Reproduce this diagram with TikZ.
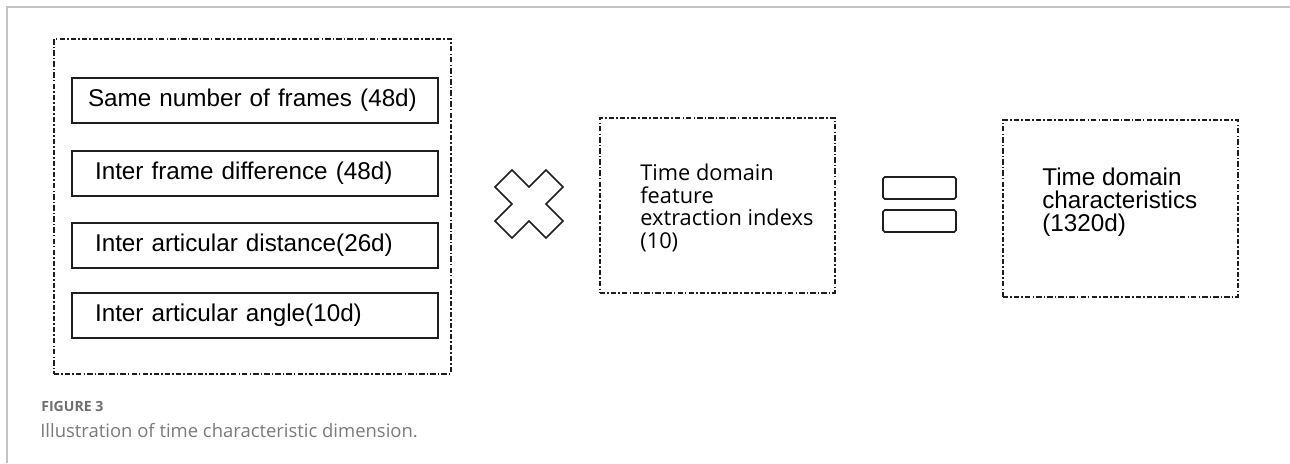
\documentclass[tikz,border=0pt]{standalone}
\usepackage{fontspec}
\setmainfont{Liberation Sans}
\newfontfamily\indexfont{Open Sans}
\newfontfamily\captionfont[Ligatures=NoCommon]{Open Sans}
\usetikzlibrary{positioning}
\definecolor{ink}{HTML}{1E1E1E}
\definecolor{rule}{HTML}{C4C4C4}
\definecolor{capgray}{HTML}{6E6E6E}
\definecolor{textgray}{HTML}{7A7A7A}

\tikzset{
  dotbox/.style={draw=ink,line width=0.8pt,
    dash pattern=on 3pt off 1.2pt on 0.9pt off 1.2pt},
  featbox/.style={draw=ink,line width=1.1pt,minimum width=7.32cm,
    minimum height=0.9cm,text width=6.68cm,inner xsep=0.32cm,align=left,
    font=\fontsize{13.8}{14}\selectfont},
  eqbar/.style={draw=ink,line width=0.9pt,rounded corners=1pt,
    minimum width=1.46cm,minimum height=0.44cm}
}

\begin{document}
\begin{tikzpicture}[x=0.02cm,y=-0.02cm]
  \useasboundingbox (0,0) rectangle (1290,463);
  % page frame
  \draw[rule,line width=1.2pt] (7,463) -- (7,7) -- (1290,7);

  % feature group
  \node[dotbox,minimum width=7.94cm,minimum height=6.7cm] (group) at (252.5,206.5) {};
  \node[featbox] (frames) at (255,100.5) {Same number of frames (48d)};
  \node[featbox] (diff) at (255,173.5) {\hspace*{0.14cm}Inter frame difference (48d)};
  \node[featbox] (dist) at (255,245.5) {\hspace*{0.14cm}Inter articular distance(26d)};
  \node[featbox] (angle) at (255,315.5) {\hspace*{0.14cm}Inter articular angle(10d)};

  % times sign
  \coordinate (times) at (529,204);
  \draw[ink,line width=0.9pt,line join=miter]
    (times) ++(0,-17) -- ++(17,-17) -- ++(17,17) -- ++(-17,17)
    -- ++(17,17) -- ++(-17,17) -- ++(-17,-17) -- ++(-17,17)
    -- ++(-17,-17) -- ++(17,-17) -- ++(-17,-17) -- ++(17,-17) -- cycle;

  % index box
  \node[dotbox,minimum width=4.7cm,minimum height=3.5cm] (index) at (717.5,205.5) {};
  \node[anchor=west,align=left,inner sep=0pt,
    font=\indexfont\fontsize{12.4}{13}\selectfont] (indextext) at (640,208)
    {Time domain\\feature\\extraction indexs\\(10)};

  % equals sign
  \node[eqbar] (eqtop) at (919.5,188) {};
  \node[eqbar] (eqbot) at (919.5,221) {};

  % result box
  \node[dotbox,minimum width=4.7cm,minimum height=3.54cm] (result) at (1120.5,208.5) {};
  \node[anchor=west,align=left,inner sep=0pt,
    font=\fontsize{13.8}{13.2}\selectfont] (resulttext) at (1042,202)
    {Time domain\\characteristics\\(1320d)};

  % caption
  \node[anchor=west,inner sep=0pt,text=capgray,
    font=\captionfont\bfseries\fontsize{8}{10}\selectfont] (figlabel) at (41,406) {FIGURE 3};
  \node[anchor=west,inner sep=0pt,text=textgray,
    font=\captionfont\fontsize{10.5}{13}\selectfont] (figcaption) at (40,431)
    {Illustration of time characteristic dimension.};
\end{tikzpicture}
\end{document}
